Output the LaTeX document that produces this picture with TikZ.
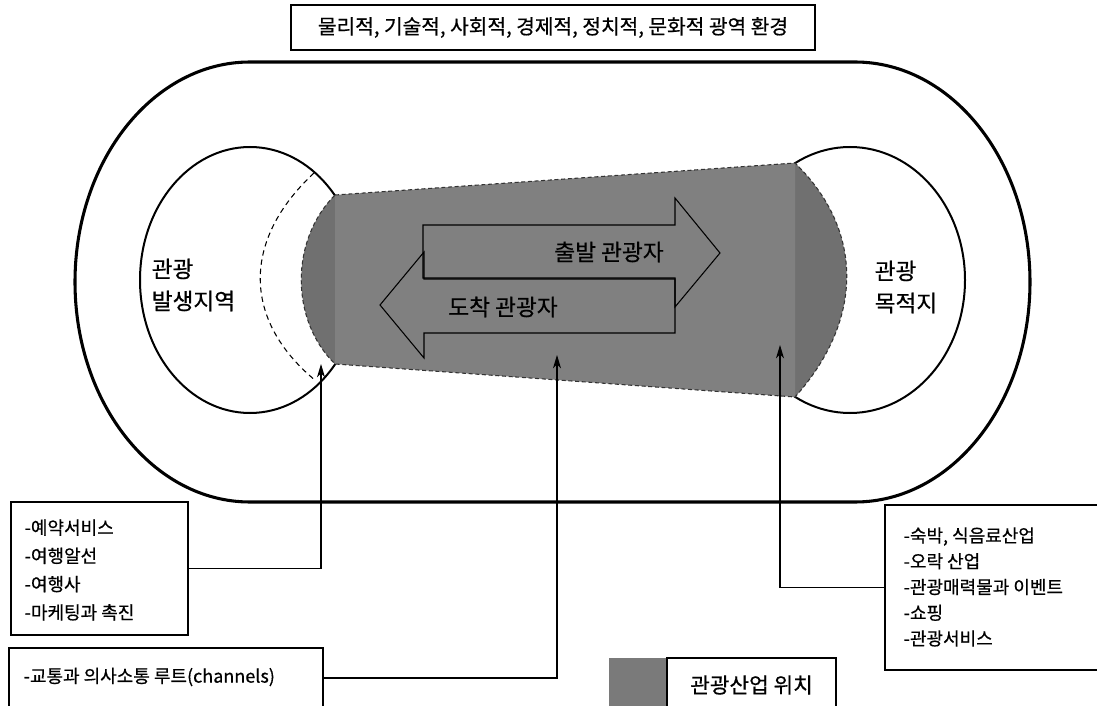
\documentclass[tikz,border=0pt]{standalone}
\usepackage{fontspec}
\setmainfont{Noto Sans CJK KR}[RawFeature={embolden=0.6}]
\usetikzlibrary{arrows.meta,shapes.geometric}
\definecolor{midgray}{RGB}{128,128,128}
\definecolor{capgray}{RGB}{112,112,112}
\definecolor{leggray}{RGB}{122,122,122}
\begin{document}
\begin{tikzpicture}[x=0.75pt,y=-0.75pt,
  framebox/.style={draw, line width=1pt, inner sep=0pt},
  region/.style={draw, ellipse, line width=1.5pt, inner sep=0pt},
  conn/.style={line width=0.8pt, -{Stealth[length=10pt,width=6pt,inset=3pt]}},
  blockarrow/.style={draw, line width=0.8pt},
  dashedge/.style={draw=black!80, line width=0.8pt, dash pattern=on 3pt off 2pt},
  biglabel/.style={font=\fontsize{17pt}{24pt}\selectfont, align=left},
  listtext/.style={anchor=west, align=left}]
\useasboundingbox (0,0) rectangle (1097,706);
\clip (0,0) rectangle (1097,706);

% outer environment (stadium)
\draw[line width=2.3pt] (250,62) -- (855,62)
  .. controls (951.7,62) and (1030,160.5) .. (1030,282)
  .. controls (1030,403.5) and (951.7,502) .. (855,502)
  -- (250,502)
  .. controls (153.3,502) and (75,403.5) .. (75,282)
  .. controls (75,160.5) and (153.3,62) .. (250,62) -- cycle;

% regions
\node[region, minimum width=165pt, minimum height=199.5pt] (origin) at (250,280) {};
\node[region, minimum width=172.5pt, minimum height=199.5pt] (dest) at (850,280) {};

% dashed arc inside origin
\draw[line width=0.8pt, dash pattern=on 4pt off 3pt] (314,173) .. controls (242,240) and (242,320) .. (316,381);

% tourism industry zone
\fill[capgray] (335,195) .. controls (290,240) and (290,320) .. (335,364) -- cycle;
\fill[capgray] (795,163) .. controls (864,230) and (864,320) .. (795,397) -- cycle;
\fill[midgray] (335,195) -- (795,163) -- (795,397) -- (335,364) -- cycle;
\draw[dashedge] (335,195) -- (795,163) .. controls (864,230) and (864,320) .. (795,397)
  -- (335,364) .. controls (290,320) and (290,240) .. (335,195);

% block arrows
\draw[blockarrow] (423,225) -- (675,225) -- (675,198) -- (720,253) -- (675,307) -- (675,278) -- (423,278) -- cycle;
\draw[blockarrow] (675,279) -- (424,279) -- (424,252) -- (380,305) -- (424,358) -- (424,333) -- (675,333) -- cycle;
\node[biglabel] (depart) at (609,252) {출발 관광자};
\node[biglabel] (arrive) at (503,307) {도착 관광자};

% region labels
\node[biglabel, anchor=west] (originlabel) at (147,285) {관광\\발생지역};
\node[biglabel, anchor=west] (destlabel) at (870,287) {관광\\목적지};

% top box
\node[framebox, minimum width=393pt, minimum height=33.75pt,
      font=\fontsize{15.2pt}{18pt}\selectfont] (env) at (553,27.5)
  {물리적, 기술적, 사회적, 경제적, 정치적, 문화적 광역 환경};

% arrow tips
\coordinate (tipL) at (321,364);
\coordinate (tipM) at (557,355);
\coordinate (tipR) at (780,345);

% left box
\node[framebox, minimum width=132.75pt, minimum height=99.75pt] (lbox) at (99.5,568.5) {};
\node[listtext, font=\fontsize{13.5pt}{21.2pt}\selectfont] (ltext) at (20,570)
  {-예약서비스\\-여행알선\\-여행사\\-마케팅과 촉진};
\draw[conn] (lbox.east) -| (tipL);

% channels box
\node[framebox, minimum width=235.5pt, minimum height=45pt] (cbox) at (166,678) {};
\node[listtext, font=\fontsize{13.5pt}{19pt}\selectfont] (ctext) at (19,677)
  {-교통과 의사소통 루트(channels)};
\draw[conn] (cbox.east) -| (tipM);

% right box
\node[framebox, minimum width=161.25pt, minimum height=123.75pt] (rbox) at (992.5,587.5) {};
\node[listtext, font=\fontsize{13.5pt}{19.3pt}\selectfont] (rtext) at (899,587)
  {-숙박, 식음료산업\\-오락 산업\\-관광매력물과 이벤트\\-쇼핑\\-관광서비스};
\draw[conn] (rbox.west) -| (tipR);

% legend
\node[fill=leggray, inner sep=0pt, minimum width=43.5pt, minimum height=40.5pt] (legsq) at (638,685) {};
\node[framebox, minimum width=126.75pt, minimum height=40.5pt,
      font=\fontsize{16pt}{18pt}\selectfont] (legtext) at (751.5,685) {관광산업 위치};
\end{tikzpicture}
\end{document}
